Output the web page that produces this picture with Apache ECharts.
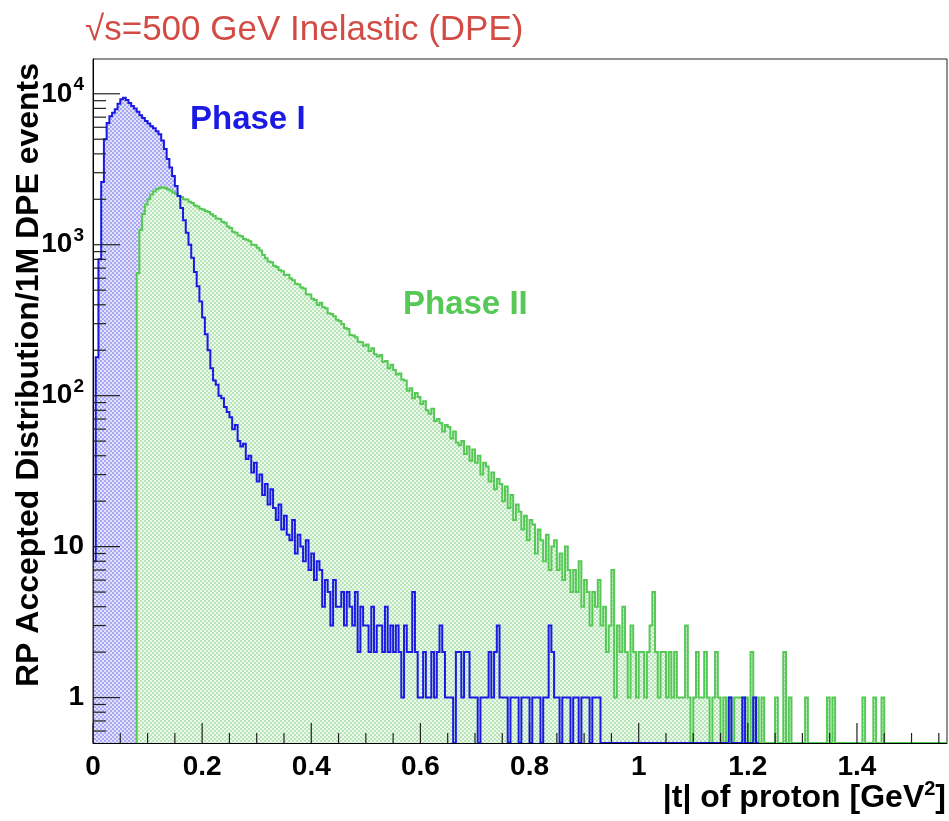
<!DOCTYPE html>
<html>
<head>
<meta charset="utf-8">
<script src="https://cdn.jsdelivr.net/npm/echarts@6/dist/echarts.min.js"></script>
<style>
html,body{margin:0;padding:0;background:#fff;}
#chart{width:949px;height:821px;}
</style>
</head>
<body>
<div id="chart"></div>
<script>
// ---------------- data ----------------
const BIN_WIDTH = 0.005;
const X_MIN = 0, X_MAX = 1.565;
const Y_MIN = 0.5, Y_MAX = 17000;

const TITLE = '√s=500 GeV Inelastic (DPE)';
const Y_TITLE = 'RP Accepted Distribution/1M DPE events';
const SERIES_NAMES = ['Phase I', 'Phase II'];

const X_TICK_VALUES = [0, 0.2, 0.4, 0.6, 0.8, 1, 1.2, 1.4];
const X_TICK_LABELS = ['0', '0.2', '0.4', '0.6', '0.8', '1', '1.2', '1.4'];
const Y_TICK_VALUES = [1, 10, 100, 1000, 10000];
const Y_TICK_LABELS = ['1', '10', '10^2', '10^3', '10^4'];

// Phase I (blue) counts per bin, bins start at t = 0
const PHASE1_START = 0.0;
const phase1 = [
  8, 180, 800, 2600, 5000, 6400, 7100, 7500, 7900, 8600,
  9200, 9400, 9100, 8700, 8300, 8000, 7600, 7200, 6900, 6600,
  6350, 6100, 5900, 5650, 5400, 4900, 4300, 3700, 3250, 2850,
  2450, 2100, 1750, 1450, 1200, 1000, 820, 660, 530, 420,
  330, 255, 200, 152, 126, 118, 100, 96, 84, 78,
  72, 60, 64, 50, 46, 48, 38, 40, 31, 36,
  27, 30, 22, 26, 19, 24, 18, 15, 19, 13,
  16, 12, 11, 15, 9, 12, 10, 8, 11, 7,
  9, 6, 8, 7, 4, 6, 5, 3, 6, 4,
  4, 5, 3, 5, 4, 3, 5, 2, 4, 3,
  3, 2, 4, 2, 3, 3, 2, 4, 2, 3,
  2, 3, 2, 1, 3, 2, 2, 5, 2, 1,
  1, 2, 1, 1, 2, 1, 2, 3, 2, 1,
  1, 1, 0, 2, 2, 1, 2, 2, 1, 1,
  1, 0, 1, 1, 1, 2, 1, 2, 3, 1,
  1, 1, 0, 1, 1, 1, 0, 1, 1, 1,
  0, 1, 1, 1, 0, 1, 1, 3, 2, 1,
  1, 0, 1, 1, 1, 0, 1, 1, 0, 1,
  1, 1, 0, 1, 1, 1, 0, 0, 0, 0,
  0, 0, 0, 0, 0, 0, 0, 0, 0, 0,
  0, 0, 0, 0, 0, 0, 0, 0, 0, 0,
  0, 0, 0, 0, 0, 0, 0, 0, 0, 0,
  0, 0, 0, 0, 0, 0, 0, 0, 0, 0,
  0, 0, 0, 1, 0, 0, 0, 0, 1, 0,
  0, 0, 1, 0
];

// Phase II (green) counts per bin, bins start at t = 0.08
const PHASE2_START = 0.08;
const phase2 = [
  650, 1250, 1600, 1850, 2000, 2150, 2250, 2330, 2380, 2400,
  2380, 2330, 2290, 2220, 2180, 2110, 2070, 2000, 1990, 1930,
  1890, 1820, 1790, 1730, 1710, 1670, 1650, 1590, 1550, 1490,
  1480, 1420, 1400, 1320, 1290, 1220, 1200, 1150, 1140, 1090,
  1080, 1055, 1000, 995, 955, 915, 855, 815, 775, 765,
  725, 712, 680, 668, 630, 632, 598, 582, 552, 545,
  520, 512, 470, 468, 438, 430, 398, 412, 385, 380,
  352, 348, 336, 318, 312, 298, 281, 276, 252, 250,
  244, 228, 226, 214, 218, 198, 206, 188, 182, 186,
  168, 170, 152, 160, 148, 138, 140, 128, 126, 108,
  112, 96, 104, 98, 88, 92, 80, 76, 82, 68,
  70, 66, 58, 64, 62, 52, 58, 49, 47, 50,
  41, 46, 37, 44, 36, 40, 30, 36, 34, 27,
  31, 24, 28, 26, 20, 25, 18, 22, 15, 19,
  17, 13, 16, 11, 15, 14, 9, 13, 11, 8,
  12, 7, 10, 11, 7, 9, 6, 10, 7, 5,
  7, 5, 8, 4, 6, 5, 3, 5, 4, 6,
  3, 4, 2, 3, 7, 1, 3, 2, 4, 2,
  1, 3, 2, 1, 2, 2, 1, 2, 3, 5,
  2, 1, 2, 2, 1, 2, 1, 2, 1, 1,
  1, 3, 1, 0, 1, 2, 1, 1, 2, 1,
  0, 1, 2, 1, 0, 1, 0, 1, 0, 1,
  1, 1, 0, 1, 0, 2, 0, 1, 0, 1,
  0, 0, 0, 0, 1, 0, 0, 2, 0, 1,
  0, 0, 0, 0, 0, 1, 0, 0, 0, 0,
  0, 0, 0, 1, 0, 1, 0, 0, 0, 0,
  0, 0, 0, 0, 0, 0, 1, 0, 0, 0,
  1, 0, 0, 1, 0, 0, 0, 0, 0, 0,
  0, 0, 0, 0, 0, 0, 0, 0, 0, 0,
  0, 0, 0, 0, 0, 0, 0
];

// ---------------- styling ----------------
const FONT = '"Liberation Sans", Arial, Helvetica, sans-serif';
const BLUE = '#1a1ae4';
const GREEN = '#55c855';
const RED = '#d24c45';

function makePattern(bg, dot) {
  const c = document.createElement('canvas');
  c.width = 4; c.height = 4;
  const g = c.getContext('2d');
  g.fillStyle = bg; g.fillRect(0, 0, 4, 4);
  g.fillStyle = dot; g.fillRect(0, 0, 2, 2); g.fillRect(2, 2, 2, 2);
  return { image: c, repeat: 'repeat' };
}
const blueFill = makePattern('#e2e2fb', '#a8a8f0');
const greenFill = makePattern('#ecf9ec', '#b8e6b8');

function histPoints(api, start, vals) {
  const pts = [api.coord([start, Y_MIN])];
  for (let i = 0; i < vals.length; i++) {
    const v = vals[i] > 0 ? vals[i] : Y_MIN;
    pts.push(api.coord([start + i * BIN_WIDTH, v]));
    pts.push(api.coord([start + (i + 1) * BIN_WIDTH, v]));
  }
  pts.push(api.coord([start + vals.length * BIN_WIDTH, Y_MIN]));
  return pts;
}

function histSeries(name, start, vals, mode, color, fill) {
  return {
    type: 'custom', name: name, coordinateSystem: 'cartesian2d', clip: true,
    silent: true,
    data: [[start, 1]],
    renderItem: function (params, api) {
      const pts = histPoints(api, start, vals);
      if (mode === 'fill') {
        return { type: 'polygon', shape: { points: pts }, style: { fill: fill, stroke: null } };
      }
      return { type: 'polyline', shape: { points: pts }, style: { fill: null, stroke: color, lineWidth: 2 } };
    }
  };
}

// tick mark values (decoration of the frame)
const yMinor = [];
[0.1, 1, 10, 100, 1000, 10000].forEach(function (d) {
  for (let k = 2; k <= 9; k++) { const v = d * k; if (v > Y_MIN && v < Y_MAX) yMinor.push(v); }
});
const xMinor = [];
for (let k = 1; k * 0.05 < X_MAX; k++) { if (k % 4 !== 0) xMinor.push(k * 0.05); }

const tickSeries = {
  type: 'custom', coordinateSystem: 'cartesian2d', silent: true, clip: false,
  data: [[0, 1]],
  renderItem: function (params, api) {
    const children = [];
    const st = { stroke: '#222', lineWidth: 1.2 };
    function yTick(v, len) {
      const p = api.coord([X_MIN, v]);
      children.push({ type: 'line', shape: { x1: p[0], y1: p[1], x2: p[0] + len, y2: p[1] }, style: st });
    }
    function xTick(v, len) {
      const p = api.coord([v, Y_MIN]);
      children.push({ type: 'line', shape: { x1: p[0], y1: p[1], x2: p[0], y2: p[1] - len }, style: st });
    }
    Y_TICK_VALUES.forEach(function (v) { yTick(v, 27); });
    yMinor.forEach(function (v) { yTick(v, 13); });
    X_TICK_VALUES.forEach(function (v) { xTick(v, 20); });
    xMinor.forEach(function (v) { xTick(v, 10); });
    return { type: 'group', children: children };
  }
};

const chart = echarts.init(document.getElementById('chart'), null, { renderer: 'canvas' });
chart.setOption({
  animation: false,
  backgroundColor: '#fff',
  grid: { left: 93, right: 2, top: 59, bottom: 78, show: true, borderColor: '#222', borderWidth: 1, containLabel: false },
  xAxis: {
    type: 'value', min: X_MIN, max: X_MAX, interval: 0.2,
    axisLine: { show: true, lineStyle: { color: '#000', width: 1 } },
    axisTick: { show: false }, splitLine: { show: false },
    axisLabel: {
      margin: 10, fontSize: 28, fontWeight: 'bold', fontFamily: FONT, color: '#000',
      showMaxLabel: false,
      formatter: function (v) {
        const i = X_TICK_VALUES.findIndex(function (t) { return Math.abs(t - v) < 1e-6; });
        return i >= 0 ? X_TICK_LABELS[i] : '';
      }
    }
  },
  yAxis: {
    type: 'log', logBase: 10, min: Y_MIN, max: Y_MAX,
    axisLine: { show: true, lineStyle: { color: '#000', width: 1 } },
    axisTick: { show: false }, splitLine: { show: false },
    axisLabel: {
      margin: 9, fontFamily: FONT, color: '#000', showMinLabel: false, showMaxLabel: false,
      formatter: function (v) {
        const i = Y_TICK_VALUES.findIndex(function (t) { return Math.abs(Math.log10(t) - Math.log10(v)) < 1e-6; });
        if (i < 0) return '';
        const parts = Y_TICK_LABELS[i].split('^');
        return parts.length > 1 ? '{b|' + parts[0] + '}{s|' + parts[1] + '}' : '{b|' + parts[0] + '}';
      },
      rich: {
        b: { fontSize: 28, fontWeight: 'bold', fontFamily: FONT, color: '#000' },
        s: { fontSize: 19, fontWeight: 'bold', fontFamily: FONT, color: '#000', padding: [0, 0, 18, 1] }
      }
    }
  },
  series: [
    histSeries(SERIES_NAMES[0] + ' fill', PHASE1_START, phase1, 'fill', BLUE, blueFill),
    histSeries(SERIES_NAMES[1] + ' fill', PHASE2_START, phase2, 'fill', GREEN, greenFill),
    histSeries(SERIES_NAMES[1], PHASE2_START, phase2, 'line', GREEN, null),
    histSeries(SERIES_NAMES[0], PHASE1_START, phase1, 'line', BLUE, null),
    tickSeries
  ],
  graphic: [
    { type: 'text', x: 85, y: 30, style: { text: TITLE, fontSize: 35, fontFamily: FONT, fill: RED, verticalAlign: 'middle' } },
    { type: 'text', x: 29, y: 375, rotation: Math.PI / 2,
      style: { text: Y_TITLE, fontSize: 32, fontWeight: 'bold', fontFamily: FONT, fill: '#000', align: 'center', verticalAlign: 'middle' } },
    { type: 'text', x: 946, y: 798,
      style: { text: '{n||t| of proton [GeV}{s|2}{n|]}', align: 'right', verticalAlign: 'middle',
        rich: {
          n: { fontSize: 32, fontWeight: 'bold', fontFamily: FONT, fill: '#000', color: '#000' },
          s: { fontSize: 20, fontWeight: 'bold', fontFamily: FONT, fill: '#000', color: '#000', padding: [0, 0, 18, 0] }
        } } },
    { type: 'text', x: 190, y: 120, style: { text: SERIES_NAMES[0], fontSize: 33, fontWeight: 'bold', fontFamily: FONT, fill: BLUE, verticalAlign: 'middle' } },
    { type: 'text', x: 403, y: 305, style: { text: SERIES_NAMES[1], fontSize: 33, fontWeight: 'bold', fontFamily: FONT, fill: GREEN, verticalAlign: 'middle' } }
  ]
});
</script>
</body>
</html>
